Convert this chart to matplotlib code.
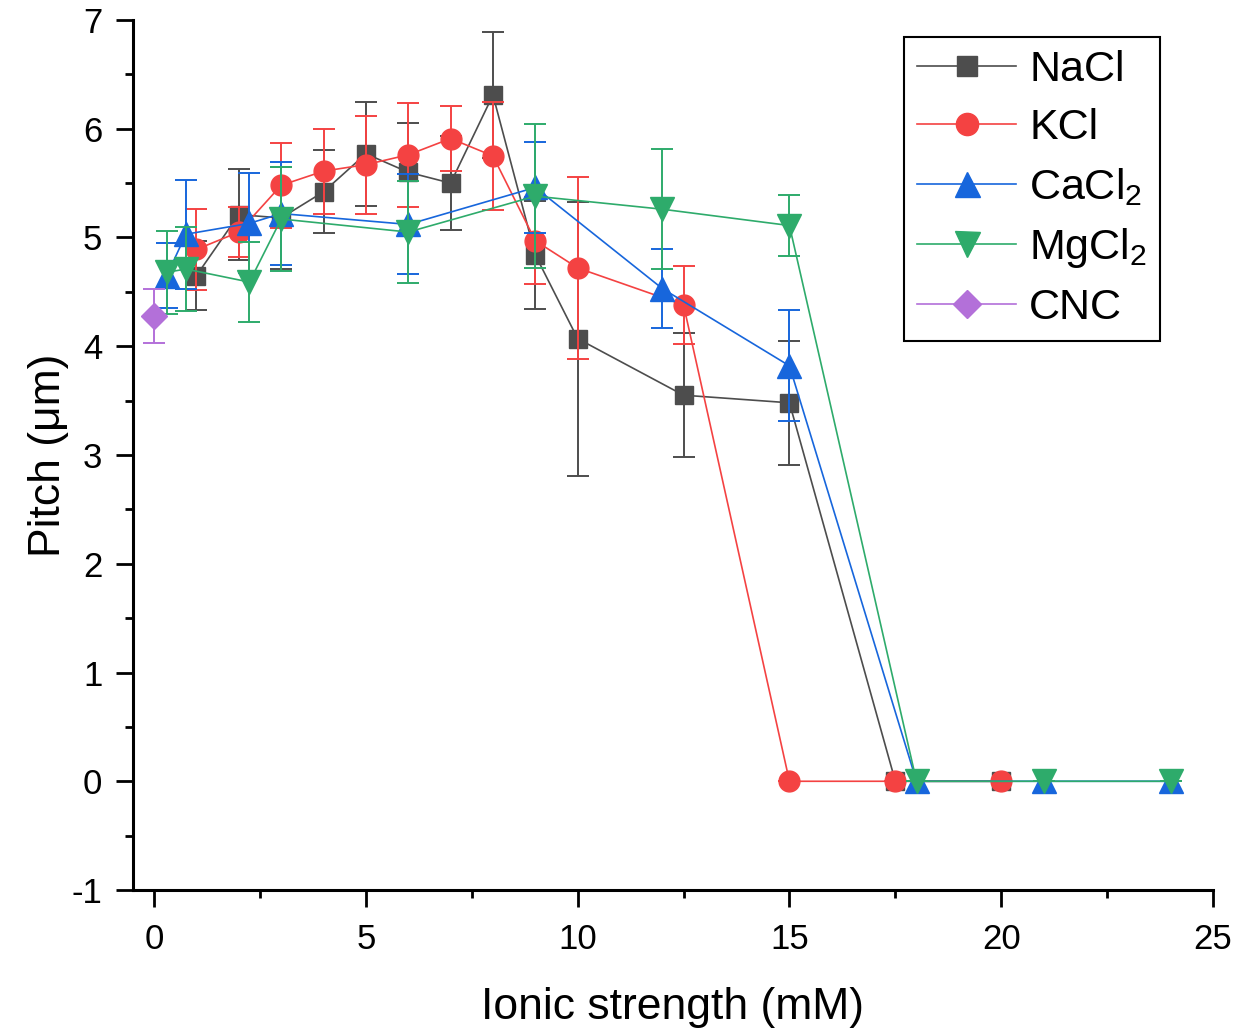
import matplotlib
matplotlib.use("Agg")
import matplotlib.pyplot as plt
import matplotlib.ticker as ticker
from matplotlib.lines import Line2D

plt.rcParams['font.family'] = ['Liberation Sans', 'DejaVu Sans']
plt.rcParams['mathtext.fontset'] = 'custom'
plt.rcParams['mathtext.rm'] = 'Liberation Sans'
plt.rcParams['mathtext.default'] = 'regular'
plt.rcParams['axes.unicode_minus'] = False

# ionic strength (mM), pitch (um), error (um)
nacl_x = [1, 2, 3, 4, 5, 6, 7, 8, 9, 10, 12.5, 15, 17.5, 20]
nacl_y = [4.65, 5.21, 5.18, 5.42, 5.77, 5.60, 5.50, 6.31, 4.84, 4.07, 3.55, 3.48, 0, 0]
nacl_err = [0.32, 0.42, 0.47, 0.38, 0.48, 0.45, 0.43, 0.58, 0.50, 1.26, 0.57, 0.57, 0, 0]

kcl_x = [1, 2, 3, 4, 5, 6, 7, 8, 9, 10, 12.5, 15, 17.5, 20]
kcl_y = [4.89, 5.05, 5.48, 5.61, 5.67, 5.76, 5.91, 5.75, 4.97, 4.72, 4.38, 0, 0, 0]
kcl_err = [0.37, 0.23, 0.39, 0.39, 0.45, 0.48, 0.30, 0.50, 0.40, 0.84, 0.36, 0, 0, 0]

cacl2_x = [0.3, 0.75, 2.25, 3, 6, 9, 12, 15, 18, 21, 24]
cacl2_y = [4.65, 5.03, 5.13, 5.22, 5.12, 5.46, 4.53, 3.82, 0, 0, 0]
cacl2_err = [0.30, 0.50, 0.46, 0.47, 0.46, 0.42, 0.36, 0.51, 0, 0, 0]

mgcl2_x = [0.3, 0.75, 2.25, 3, 6, 9, 12, 15, 18, 21, 24]
mgcl2_y = [4.68, 4.71, 4.59, 5.17, 5.05, 5.38, 5.26, 5.11, 0, 0, 0]
mgcl2_err = [0.38, 0.39, 0.37, 0.48, 0.47, 0.66, 0.55, 0.28, 0, 0, 0]

cnc_x = [0]
cnc_y = [4.28]
cnc_err = [0.25]

fig = plt.figure(figsize=(12.39, 10.30), dpi=100)
ax = fig.add_axes([0.1073, 0.1359, 0.8717, 0.8447])

series = [
    (nacl_x, nacl_y, nacl_err, 's', 13, '#4d4d4d', 'NaCl'),
    (kcl_x, kcl_y, kcl_err, 'o', 15, '#f44242', 'KCl'),
    (cacl2_x, cacl2_y, cacl2_err, '^', 17, '#1766dc', 'CaCl$_2$'),
    (mgcl2_x, mgcl2_y, mgcl2_err, 'v', 17, '#2eab6b', 'MgCl$_2$'),
    (cnc_x, cnc_y, cnc_err, 'D', 13, '#b370d9', 'CNC'),
]

handles = []
for i, (x, y, e, m, ms, c, lab) in enumerate(series):
    ax.errorbar(x, y, yerr=e, fmt='-', marker=m, ms=ms, color=c, lw=1.2,
                mec=c, ecolor=c, elinewidth=1.4, capsize=8, capthick=1.4,
                zorder=3 + i)
    handles.append(Line2D([], [], color=c, lw=1.2, marker=m, ms=ms + 1,
                          mec=c, label=lab))

ax.set_xlim(-0.5, 25)
ax.set_ylim(-1, 7)
ax.xaxis.set_major_locator(ticker.MultipleLocator(5))
ax.xaxis.set_minor_locator(ticker.MultipleLocator(2.5))
ax.yaxis.set_major_locator(ticker.MultipleLocator(1))
ax.yaxis.set_minor_locator(ticker.MultipleLocator(0.5))
ax.tick_params(which='major', length=12, width=2, labelsize=25)
ax.tick_params(axis='x', which='major', pad=12)
ax.tick_params(axis='y', which='major', pad=10)
ax.tick_params(which='minor', length=6, width=2)
ax.spines['top'].set_visible(False)
ax.spines['right'].set_visible(False)
ax.spines['left'].set_linewidth(2.2)
ax.spines['bottom'].set_linewidth(2.2)

ax.set_xlabel('Ionic strength (mM)', fontsize=32, labelpad=22)
ax.set_ylabel('Pitch (\u03bcm)', fontsize=32, labelpad=2)

leg = ax.legend(handles=handles, loc='upper right',
                bbox_to_anchor=(1160 / 1239, 1 - 37 / 1030),
                bbox_transform=fig.transFigure, borderaxespad=0, fontsize=31,
                handlelength=2.3, handletextpad=0.3,
                labelspacing=0.42, borderpad=0.3, fancybox=False,
                edgecolor='black', framealpha=1)
leg.get_frame().set_linewidth(1.5)

fig.savefig('out.png', dpi=100)
